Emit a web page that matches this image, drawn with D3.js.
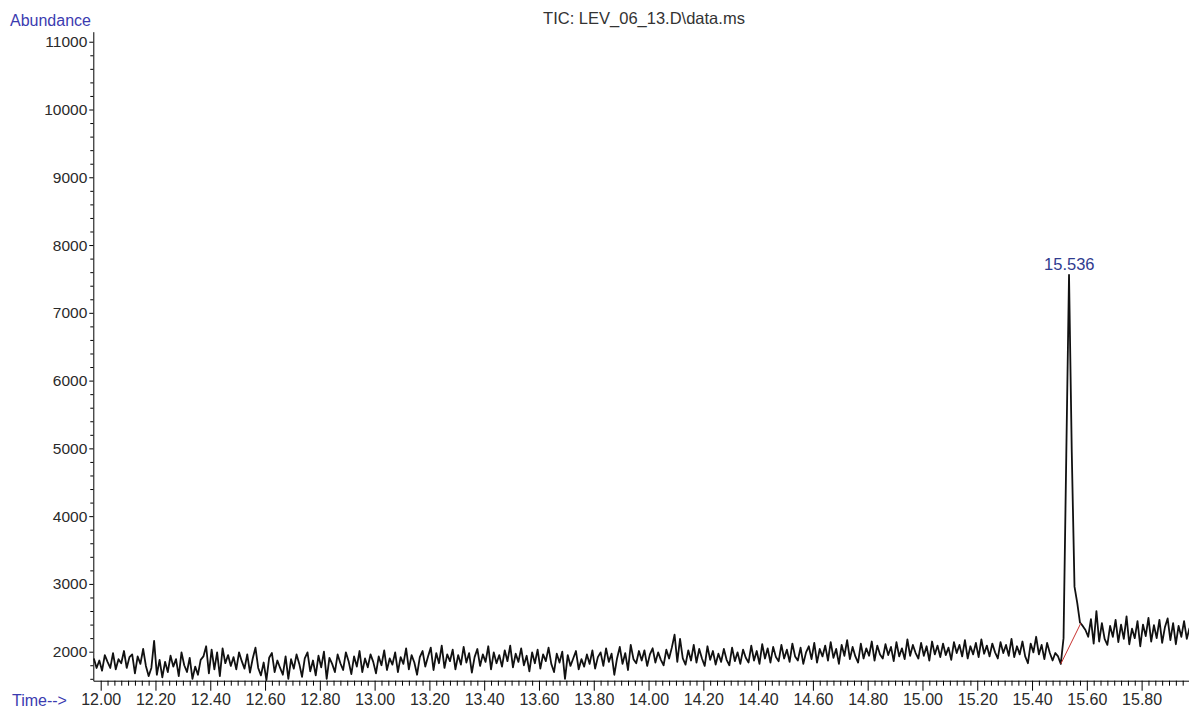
<!DOCTYPE html>
<html>
<head>
<meta charset="UTF-8">
<title>TIC: LEV_06_13.D\data.ms</title>
<script src="https://d3js.org/d3.v7.min.js"></script>
<style>
    body { margin: 0; padding: 0; background: #fff; }
    svg text { font-family: "Liberation Sans", Arial, sans-serif; }
    .tick text { fill: #2a2a2a; }
    .axis path, .axis line { stroke: #000; }
</style>
</head>
<body>
<div id="chart"></div>
<script>
// scan times: start + step * index (one scan every 0.01 min)
const scanStart = 11.975;
const scanStep = 0.01;

// TIC abundance per scan
const abundance = [
    1900, 1760, 1870, 1720, 1950, 1850, 1760, 1980, 1740, 1890,
    1830, 2010, 1760, 1920, 1960, 1680, 1930, 1820, 2040, 1790,
    1640, 1760, 2160, 1660, 1880, 1620, 1850, 1700, 1940, 1780,
    1890, 1640, 1990, 1800, 1700, 1910, 1600, 1780, 1660, 1880,
    1930, 2080, 1680, 2030, 1740, 1990, 1640, 2050, 1830, 1950,
    1790, 1920, 1740, 1990, 1860, 1750, 1960, 1690, 1900, 2060,
    1760, 1650, 1840, 1580, 1910, 1980, 1700, 1870, 1760, 1660,
    1930, 1600, 1890, 1750, 1960, 1820, 1630, 1900, 1990, 1710,
    1870, 1650, 1940, 1770, 2000, 1600, 1910, 1820, 1700, 1960,
    1830, 1730, 1990, 1860, 1670, 1930, 1780, 2010, 1700, 1900,
    1770, 1960, 1850, 1680, 1930, 1800, 2020, 1730, 1900, 1810,
    1990, 1700, 1920, 1820, 2050, 1740, 1950, 1840, 1660, 1920,
    2010, 1780, 1930, 2060, 1730, 1980, 1830, 2090, 1760, 1960,
    1860, 2030, 1740, 1950, 1810, 2070, 1840, 1980, 1690, 1920,
    2040, 1790, 1960, 1850, 2080, 1740, 1990, 1830, 1950, 1780,
    2020, 1860, 2090, 1770, 1970, 1850, 2050, 1800, 1940, 1710,
    1990, 1830, 2030, 1750, 1960, 1860, 2060, 1820, 1700, 1970,
    1840, 2000, 1600, 1950, 1790, 1900, 2010, 1740, 1890, 1780,
    1960, 1820, 2020, 1750, 1920, 1990, 1790, 2050, 1850, 1970,
    1660, 1900, 2070, 1820, 1980, 1730, 2100, 1890, 1830, 2010,
    1870, 2020, 1790, 1960, 2050, 1840, 1990, 1880, 1800, 2030,
    1900, 2060, 2250, 1850, 2190, 1900, 1810, 2020, 1870, 2100,
    1840, 2040, 1900, 1790, 2080, 1880, 2010, 1810, 1970, 1850,
    2040, 1880, 1800, 2060, 1860, 1990, 1820, 2030, 1910, 1840,
    2090, 1870, 2010, 1820, 2110, 1900, 2050, 1840, 2070, 1920,
    1860, 2100, 1900, 2030, 1850, 2120, 1930, 1870, 2060, 1820,
    1990, 2080, 1890, 2130, 1840, 2040, 1930, 2090, 1870, 2140,
    1910, 2040, 1820, 2100, 1940, 2170, 1890, 2070, 1930, 1840,
    2120, 1900, 2050, 1940, 2150, 1870, 2090, 1960, 1900, 2110,
    1950, 2070, 1860, 2140, 1930, 2050, 1890, 2180, 1940, 2100,
    1980, 1900, 2130, 1940, 2080, 1870, 2150, 1960, 2090, 1920,
    2120, 1950, 2060, 1880, 2140, 1980, 2100, 1930, 2170, 1900,
    2080, 1960, 2130, 1920, 2180, 1970, 2090, 1930, 2120, 1990,
    1900, 2140, 1980, 2100, 1940, 2190, 1920, 2080, 1960, 2150,
    1930, 1830, 2120, 1990, 2220, 1960, 2100, 1890, 2130, 1980,
    1870, 1980, 1930,
    1820, 2200, 4900, 7560, 4950, 2960, 2720, 2430,
    2380, 2320, 2220, 2480, 2120, 2600, 2150, 2420, 2190,
    2100, 2380, 2220, 2470, 2140, 2400, 2190, 2520, 2110, 2340,
    2200, 2450, 2080, 2400, 2230, 2500, 2150, 2390, 2200, 2470,
    2130, 2360, 2490, 2170, 2420, 2110, 2380, 2220, 2450, 2190,
    2350
];

// integration baseline under the peak
const baselineTimes = [15.505, 15.578];
const baselineAbund = [1820, 2420];

const peakTime = 15.536;
const peakAbund = 7560;
const peakLabel = "15.536";

const xMajorTicks = [12.0, 12.2, 12.4, 12.6, 12.8, 13.0, 13.2, 13.4, 13.6, 13.8,
                     14.0, 14.2, 14.4, 14.6, 14.8, 15.0, 15.2, 15.4, 15.6, 15.8];
const yMajorTicks = [2000, 3000, 4000, 5000, 6000, 7000, 8000, 9000, 10000, 11000];

const titleText = "TIC: LEV_06_13.D\\data.ms";

const width = 1189, height = 711;

const svg = d3.select("#chart").append("svg")
    .attr("width", width)
    .attr("height", height);

const x = d3.scaleLinear().domain([11.973, 15.973]).range([93.3, 1189]);
const y = d3.scaleLinear().domain([1572, 11148]).range([680.7, 31.7]);

const series = abundance.map((v, i) => ({ t: scanStart + i * scanStep, v: v }));

// y axis: minor ticks first, then major with labels
const yMinor = d3.range(1600, 11150, 200).filter(v => v % 1000 !== 0);
svg.append("g")
    .attr("class", "axis")
    .attr("transform", "translate(93.3,0)")
    .call(d3.axisLeft(y).tickValues(yMinor).tickSize(3).tickSizeOuter(0).tickFormat(""))
    .call(g => g.select(".domain").remove())
    .selectAll("line").attr("stroke", "#888");

svg.append("g")
    .attr("class", "axis")
    .attr("transform", "translate(93.3,0)")
    .call(d3.axisLeft(y).tickValues(yMajorTicks).tickSize(4).tickSizeOuter(0)
        .tickPadding(2).tickFormat(d3.format("d")))
    .call(g => g.selectAll("text").attr("font-size", 15.5));

// x axis
const xMinor = d3.range(12.025, 15.98, 0.025)
    .filter(t => Math.abs(t * 5 - Math.round(t * 5)) > 1e-6);
svg.append("g")
    .attr("class", "axis")
    .attr("transform", "translate(0,680.7)")
    .call(d3.axisBottom(x).tickValues(xMinor).tickSize(5).tickSizeOuter(0).tickFormat(""))
    .call(g => g.select(".domain").remove());

svg.append("g")
    .attr("class", "axis")
    .attr("transform", "translate(0,680.7)")
    .call(d3.axisBottom(x).tickValues(xMajorTicks).tickSize(10).tickSizeOuter(0)
        .tickPadding(3).tickFormat(d3.format(".2f")))
    .call(g => g.selectAll("text").attr("font-size", 16));

// trace
svg.append("path")
    .datum(series)
    .attr("fill", "none")
    .attr("stroke", "#111")
    .attr("stroke-width", 1.8)
    .attr("stroke-linejoin", "round")
    .attr("d", d3.line().x(d => x(d.t)).y(d => y(d.v)));

// red baseline
svg.append("path")
    .datum(baselineTimes.map((t, i) => ({ t: t, v: baselineAbund[i] })))
    .attr("fill", "none")
    .attr("stroke", "#c8322f")
    .attr("stroke-width", 1)
    .attr("d", d3.line().x(d => x(d.t)).y(d => y(d.v)));

// peak label
svg.append("text")
    .attr("x", x(peakTime))
    .attr("y", y(peakAbund) - 5)
    .attr("text-anchor", "middle")
    .attr("font-size", 16.5)
    .attr("fill", "#2f3b8f")
    .text(peakLabel);

// titles
svg.append("text")
    .attr("x", 644)
    .attr("y", 24)
    .attr("text-anchor", "middle")
    .attr("font-size", 16.5)
    .attr("fill", "#333")
    .text(titleText);

svg.append("text")
    .attr("x", 10)
    .attr("y", 26)
    .attr("font-size", 16)
    .attr("fill", "#3b3bb0")
    .text("Abundance");

svg.append("text")
    .attr("x", 12)
    .attr("y", 706)
    .attr("font-size", 16)
    .attr("fill", "#3b3bb0")
    .text("Time-->");
</script>
</body>
</html>
